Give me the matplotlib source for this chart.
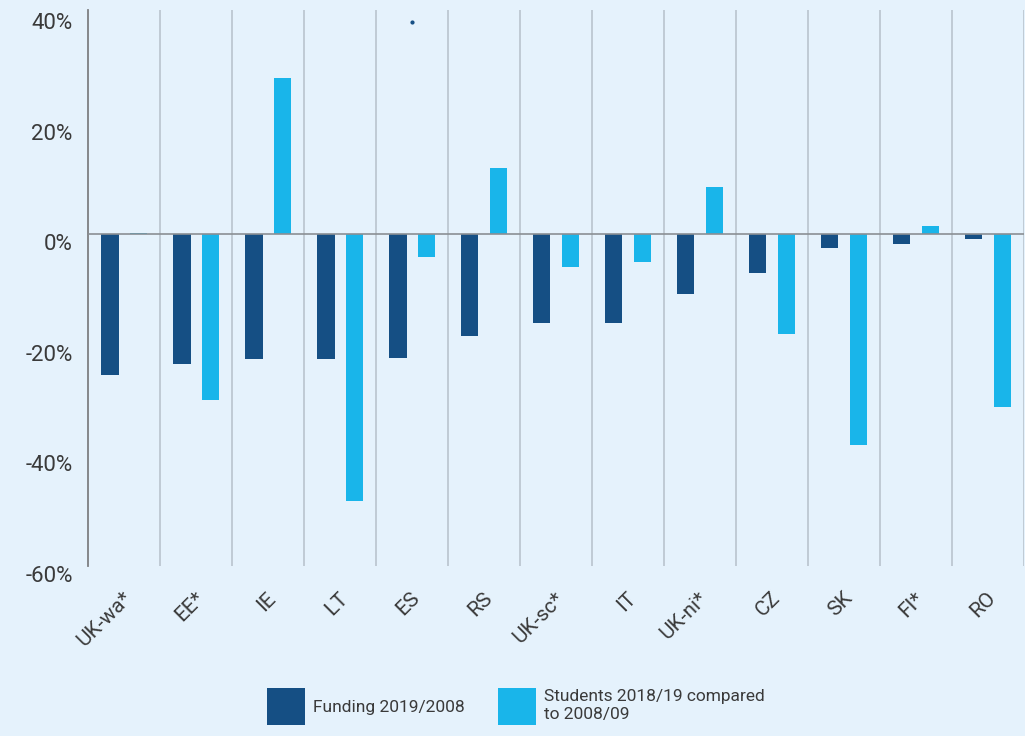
import numpy as np
import matplotlib
matplotlib.use("Agg")
from matplotlib import pyplot as plt
from matplotlib.patches import Patch
from matplotlib.transforms import ScaledTranslation

# values (percent change)
countries = ["UK-wa*", "EE*", "IE", "LT", "ES", "RS", "UK-sc*", "IT", "UK-ni*", "CZ", "SK", "FI*", "RO"]
funding = [-25.4, -23.4, -22.5, -22.5, -22.3, -18.4, -16.1, -16.1, -10.8, -7.1, -2.4, -1.7, -0.9]
students = [0.3, -29.9, 28.3, -48.3, -4.1, 11.9, -5.9, -5.1, 8.5, -18.1, -38.2, 1.4, -31.2]
yticks = [-60, -40, -20, 0, 20, 40]

bg = "#e5f2fc"
dark = "#154f84"
light = "#19b5ea"
txt = "#3a3a3a"

plt.rcParams["font.family"] = ["Roboto", "DejaVu Sans"]

fig = plt.figure(figsize=(10.25, 7.36), dpi=100, facecolor=bg)
ax = fig.add_axes([0.086, 0.231, 0.913, 0.755])
ax.set_facecolor(bg)

x = np.arange(len(countries))
w = 0.245
ax.bar(x - 0.2, funding, w, color=dark, zorder=3)
ax.bar(x + 0.2, students, w, color=light, zorder=3)

# separators between categories
for s in np.arange(len(countries)) + 0.5:
    ax.axvline(s, color="#b9c4ce", lw=1.2, zorder=1)
ax.axhline(0, color="#8a8f94", lw=1.2, zorder=4)

# stray dot seen in the original
ax.plot([4], [38.3], marker="o", ms=2, color=dark, zorder=5)

ax.set_xlim(-0.5, len(countries) - 0.5)
ax.set_ylim(-60, 40.5)
ax.set_yticks(yticks)
ax.set_yticklabels([f"{v}%" for v in yticks], fontsize=16, color=txt)
for lab in ax.get_yticklabels():
    lab.set_verticalalignment("top")
ax.tick_params(axis="y", length=0, pad=11)
ax.set_xticks(x)
ax.set_xticklabels(countries, rotation=45, ha="right", va="center",
                   rotation_mode="anchor", fontsize=15, color=txt)
ax.tick_params(axis="x", length=0, pad=21)
shift = ScaledTranslation(5 / 100, 0, fig.dpi_scale_trans)
for lab in ax.get_xticklabels():
    lab.set_transform(lab.get_transform() + shift)

for side in ["top", "right", "bottom"]:
    ax.spines[side].set_visible(False)
ax.spines["left"].set_color("#7d7f82")
ax.spines["left"].set_linewidth(1.3)

handles = [Patch(facecolor=dark, label="Funding 2019/2008"),
           Patch(facecolor=light, label="Students 2018/19 compared\nto 2008/09")]
fig.legend(handles=handles, loc="center", bbox_to_anchor=(0.503, 0.04), ncol=2,
           frameon=False, fontsize=12.5, handlelength=2.2, handleheight=2.9,
           columnspacing=1.9, handletextpad=0.45, labelcolor=txt)

fig.savefig("out.png", dpi=100, facecolor=bg)
